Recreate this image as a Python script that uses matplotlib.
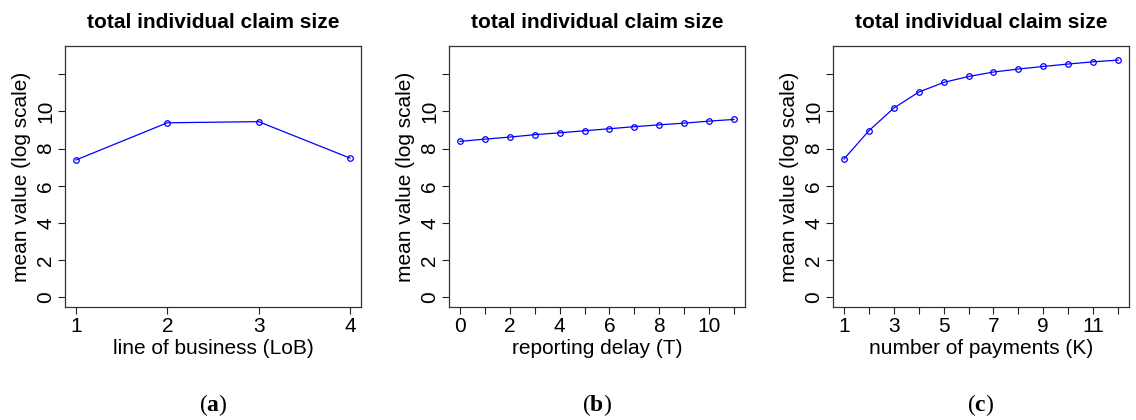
import numpy as np
import matplotlib
matplotlib.use('Agg')
import matplotlib.pyplot as plt

plt.rcParams['font.family'] = ['Liberation Sans', 'DejaVu Sans']
plt.rcParams['mathtext.fontset'] = 'custom'
plt.rcParams['mathtext.rm'] = 'Liberation Serif'
plt.rcParams['mathtext.bf'] = 'Liberation Serif:bold'

# data
lob = [1, 2, 3, 4]
lob_mean = [7.39, 9.39, 9.45, 7.49]

delay = list(range(0, 12))
delay_mean = [8.39, 8.51, 8.62, 8.75, 8.85, 8.96, 9.07, 9.18, 9.28, 9.37, 9.48, 9.57]

npay = list(range(1, 13))
npay_mean = [7.44, 8.96, 10.18, 11.04, 11.56, 11.88, 12.12, 12.28, 12.42, 12.55, 12.67, 12.76]

panels = [
    (lob, lob_mean, 'line of business (LoB)', [1, 2, 3, 4], 65),
    (delay, delay_mean, 'reporting delay (T)', [0, 2, 4, 6, 8, 10], 449),
    (npay, npay_mean, 'number of payments (K)', [1, 3, 5, 7, 9, 11], 833),
]
sub_letters = ['a', 'b', 'c']

W, H = 1136, 420
fig = plt.figure(figsize=(W / 100, H / 100), dpi=100)

for k, (x, y, xlab, xlabeled, left) in enumerate(panels):
    ax = fig.add_axes([left / W, (H - 307) / H, 296 / W, 261 / H])
    ax.plot(x, y, color='blue', lw=0.9, marker='o', ms=4, mfc='none', mew=0.9)
    rng = max(x) - min(x)
    ax.set_xlim(min(x) - 0.04 * rng, max(x) + 0.04 * rng)
    ax.set_ylim(-0.52, 13.52)
    ax.set_xticks(x)
    ax.set_xticklabels([str(v) if v in xlabeled else '' for v in x])
    ax.set_yticks(range(0, 13, 2))
    ax.set_yticklabels(['0', '2', '4', '6', '8', '10', ''], rotation=90, va='center')
    ax.tick_params(direction='out', length=5, width=0.8, labelsize=15, pad=2, color='#222222')
    for s in ax.spines.values():
        s.set_linewidth(0.9)
        s.set_color('#333333')
    ax.set_xlabel(xlab, fontsize=15, labelpad=2)
    ax.set_ylabel('mean value (log scale)', fontsize=15, labelpad=4)
    ax.set_title('total individual claim size', fontsize=15, fontweight='bold', pad=13)
    fig.text((left + 148) / W, 1 - 405 / H, r'($\mathbf{' + sub_letters[k] + r'}$)',
             ha='center', va='center', fontsize=17, family='Liberation Serif')

fig.savefig('out.png', dpi=100)
